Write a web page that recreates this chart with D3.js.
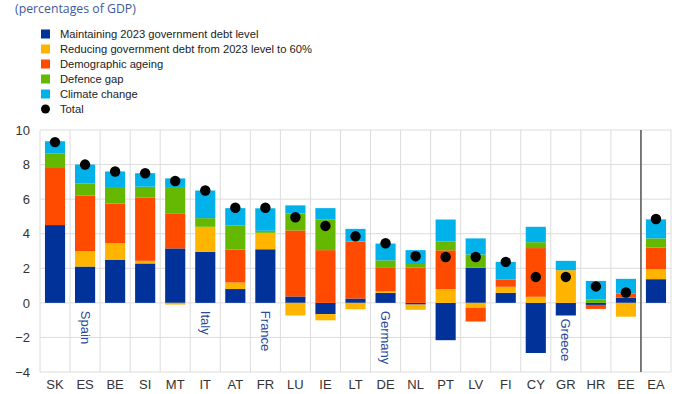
<!DOCTYPE html>
<meta charset="utf-8">
<style>
body { margin: 0; background: #fff; }
svg { display: block; font-family: "Liberation Sans", Arial, sans-serif; }
.grid line { stroke: #dcdcdc; stroke-width: 1; }
.grid path { display: none; }
.axis path, .axis line { display: none; }
.axis text { fill: #333; font-size: 13px; }
.legend text { font-size: 11.2px; fill: #222; }
</style>

<script src="https://d3js.org/d3.v7.min.js"></script>

<div id="my_dataviz"></div>

<script>

// country codes on the x axis
var countries = ["SK","ES","BE","SI","MT","IT","AT","FR","LU","IE","LT","DE","NL","PT","LV","FI","CY","GR","HR","EE","EA"];

// components (percentages of GDP)
var maintaining = [4.5, 2.1, 2.5, 2.28, 3.15, 2.95, 0.8, 3.1, 0.37, -0.65, 0.25, 0.58, -0.1, -2.16, 2.03, 0.58, -2.9, -0.73, -0.12, 0.3, 1.37];
var reducing    = [0, 0.9, 0.95, 0.15, -0.1, 1.45, 0.38, 0.95, -0.73, -0.36, -0.37, 0.08, -0.3, 0.8, -0.28, 0.35, 0.35, 1.89, 0, -0.8, 0.58];
var ageing      = [3.35, 3.2, 2.3, 3.67, 2.0, 0, 1.9, 0, 3.82, 3.05, 3.28, 1.4, 2.05, 2.24, -0.8, 0.42, 2.82, 0, -0.23, 0.24, 1.25];
var defence     = [0.8, 0.7, 0.9, 0.62, 1.5, 0.5, 1.4, 0.12, 0.98, 1.78, 0.03, 0.4, 0.2, 0.52, 0.77, 0, 0.34, 0, 0.2, 0, 0.53];
var climate     = [0.7, 1.1, 0.95, 0.78, 0.55, 1.6, 1.0, 1.3, 0.47, 0.65, 0.72, 0.97, 0.8, 1.26, 0.93, 1.02, 0.89, 0.54, 1.07, 0.85, 1.1];
var total       = [9.3, 8.0, 7.6, 7.5, 7.05, 6.5, 5.5, 5.5, 4.95, 4.45, 3.85, 3.45, 2.7, 2.65, 2.65, 2.37, 1.5, 1.5, 0.95, 0.6, 4.85];

var yTicks = [-4, -2, 0, 2, 4, 6, 8, 10];

// named countries written under some bars
var nameCodes = ["ES", "IT", "FR", "DE", "GR"];
var nameLabels = ["Spain", "Italy", "France", "Germany", "Greece"];

var seriesNames = ["Maintaining 2023 government debt level",
                   "Reducing government debt from 2023 level to 60%",
                   "Demographic ageing",
                   "Defence gap",
                   "Climate change"];
var seriesColors = ["#003299", "#ffb400", "#ff4b00", "#65b800", "#00b1ea"];
var seriesValues = [maintaining, reducing, ageing, defence, climate];

var W = 700, H = 394;
var margin = {top: 130, right: 29, bottom: 22, left: 40},
    width = W - margin.left - margin.right,
    height = 372 - margin.top;

var svg = d3.select("#my_dataviz")
  .append("svg")
    .attr("width", W)
    .attr("height", H);

// title
svg.append("text")
    .attr("x", 15)
    .attr("y", 13)
    .style("font-family", "'Open Sans', sans-serif")
    .style("font-size", "12.3px")
    .style("fill", "#3d5a9e")
    .text("(percentages of GDP)");

// legend
var legendItems = seriesNames.concat(["Total"]);
var legend = svg.append("g").attr("class", "legend")
  .selectAll("g")
  .data(legendItems)
  .enter().append("g")
    .attr("transform", function(d, i) { return "translate(41," + (34 + i * 15) + ")"; });

legend.each(function(d, i) {
  var g = d3.select(this);
  if (i < seriesNames.length) {
    g.append("rect")
      .attr("x", 0).attr("y", -4.5)
      .attr("width", 9).attr("height", 9)
      .attr("fill", seriesColors[i]);
  } else {
    g.append("circle")
      .attr("cx", 4.5).attr("cy", 0).attr("r", 4.5)
      .attr("fill", "#000");
  }
  g.append("text")
    .attr("x", 19)
    .attr("dy", "0.35em")
    .text(d);
});

var plot = svg.append("g")
    .attr("transform", "translate(" + margin.left + "," + margin.top + ")");

var x = d3.scaleBand()
    .domain(countries)
    .range([0, width])
    .paddingInner(0.33)
    .paddingOuter(0.165);

var y = d3.scaleLinear()
    .domain([-4, 10])
    .range([height, 0]);

// gridlines
var step = x.step();
plot.append("g").attr("class", "grid")
  .selectAll("line.h")
  .data(yTicks)
  .enter().append("line")
    .attr("x1", 0).attr("x2", width)
    .attr("y1", function(d) { return y(d); })
    .attr("y2", function(d) { return y(d); });

plot.append("g").attr("class", "grid")
  .selectAll("line.v")
  .data(d3.range(countries.length + 1))
  .enter().append("line")
    .attr("x1", function(i) { return i * step; })
    .attr("x2", function(i) { return i * step; })
    .attr("y1", 0).attr("y2", height);

// stacked bars
var rows = countries.map(function(c, i) {
  var r = {country: c};
  seriesNames.forEach(function(s, k) { r[s] = seriesValues[k][i]; });
  return r;
});

var stack = d3.stack()
    .keys(seriesNames)
    .offset(d3.stackOffsetDiverging);

var layers = stack(rows);

plot.append("g").selectAll("g")
  .data(layers)
  .enter().append("g")
    .attr("fill", function(d, i) { return seriesColors[i]; })
  .selectAll("rect")
  .data(function(d) { return d; })
  .enter().append("rect")
    .attr("x", function(d) { return x(d.data.country); })
    .attr("width", x.bandwidth())
    .attr("y", function(d) { return y(Math.max(d[0], d[1])); })
    .attr("height", function(d) { return Math.abs(y(d[0]) - y(d[1])); });

// separator before euro area
plot.append("line")
    .attr("x1", x("EA") - (step - x.bandwidth()) / 2)
    .attr("x2", x("EA") - (step - x.bandwidth()) / 2)
    .attr("y1", 0).attr("y2", height)
    .attr("stroke", "#555")
    .attr("stroke-width", 1.5);

// totals
plot.append("g").selectAll("circle")
  .data(total)
  .enter().append("circle")
    .attr("cx", function(d, i) { return x(countries[i]) + x.bandwidth() / 2; })
    .attr("cy", function(d) { return y(d); })
    .attr("r", 5.2)
    .attr("fill", "#000");

// country names under bars
nameCodes.forEach(function(code, k) {
  var i = countries.indexOf(code);
  var neg = d3.sum(seriesValues, function(v) { return Math.min(0, v[i]); });
  var top = Math.max(y(0) + 8, y(neg) + 3);
  var cx = x(code) + x.bandwidth() / 2;
  plot.append("text")
    .attr("transform", "translate(" + cx + "," + top + ") rotate(90)")
    .attr("dy", "0.35em")
    .style("font-size", "13px")
    .style("fill", "#2b4a9a")
    .text(nameLabels[k]);
});

// axes
plot.append("g").attr("class", "axis")
    .call(d3.axisLeft(y).tickValues(yTicks).tickSize(0).tickPadding(10))
  .selectAll("text")
    .style("font-size", "13px");

plot.append("g").attr("class", "axis")
    .attr("transform", "translate(0," + height + ")")
    .call(d3.axisBottom(x).tickSize(0).tickPadding(8));

</script>
